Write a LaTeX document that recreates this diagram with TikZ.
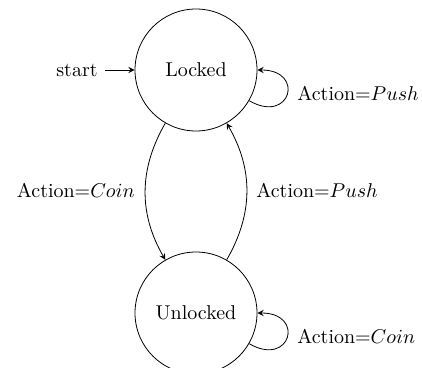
\documentclass[tikz,border=0pt]{standalone}
\begin{document}
\begin{tikzpicture}[x=0.5pt,y=-0.5pt,
  >=stealth,
  statebox/.style={draw,circle,minimum size=61pt,inner sep=0pt},
  lbl/.style={inner sep=2pt}]
\useasboundingbox (0,0) rectangle (422,368);
\node[statebox] (L) at (196,70) {Locked};
\node[statebox] (U) at (196,313) {Unlocked};
\node (start) at (77,70) {start};
\draw[->] (start) -- (L);
% loops (y axis is flipped: polar 30 points down-right)
\draw[->] (L.-30) .. controls +(30:48) and +(0:48) .. (L.0);
\node[lbl,anchor=west] (l1) at (293,93) {Action=$Push$};
\draw[->] (U.-30) .. controls +(30:48) and +(0:48) .. (U.0);
\node[lbl,anchor=west] (l2) at (293,336) {Action=$Coin$};
% transitions
\draw[->] (L.-120) to[bend right=30] (U.120);
\node[lbl,anchor=east] (l3) at (139,190) {Action=$Coin$};
\draw[->] (U.60) to[bend right=30] (L.-60);
\node[lbl,anchor=west] (l4) at (252,190) {Action=$Push$};
\end{tikzpicture}
\end{document}
